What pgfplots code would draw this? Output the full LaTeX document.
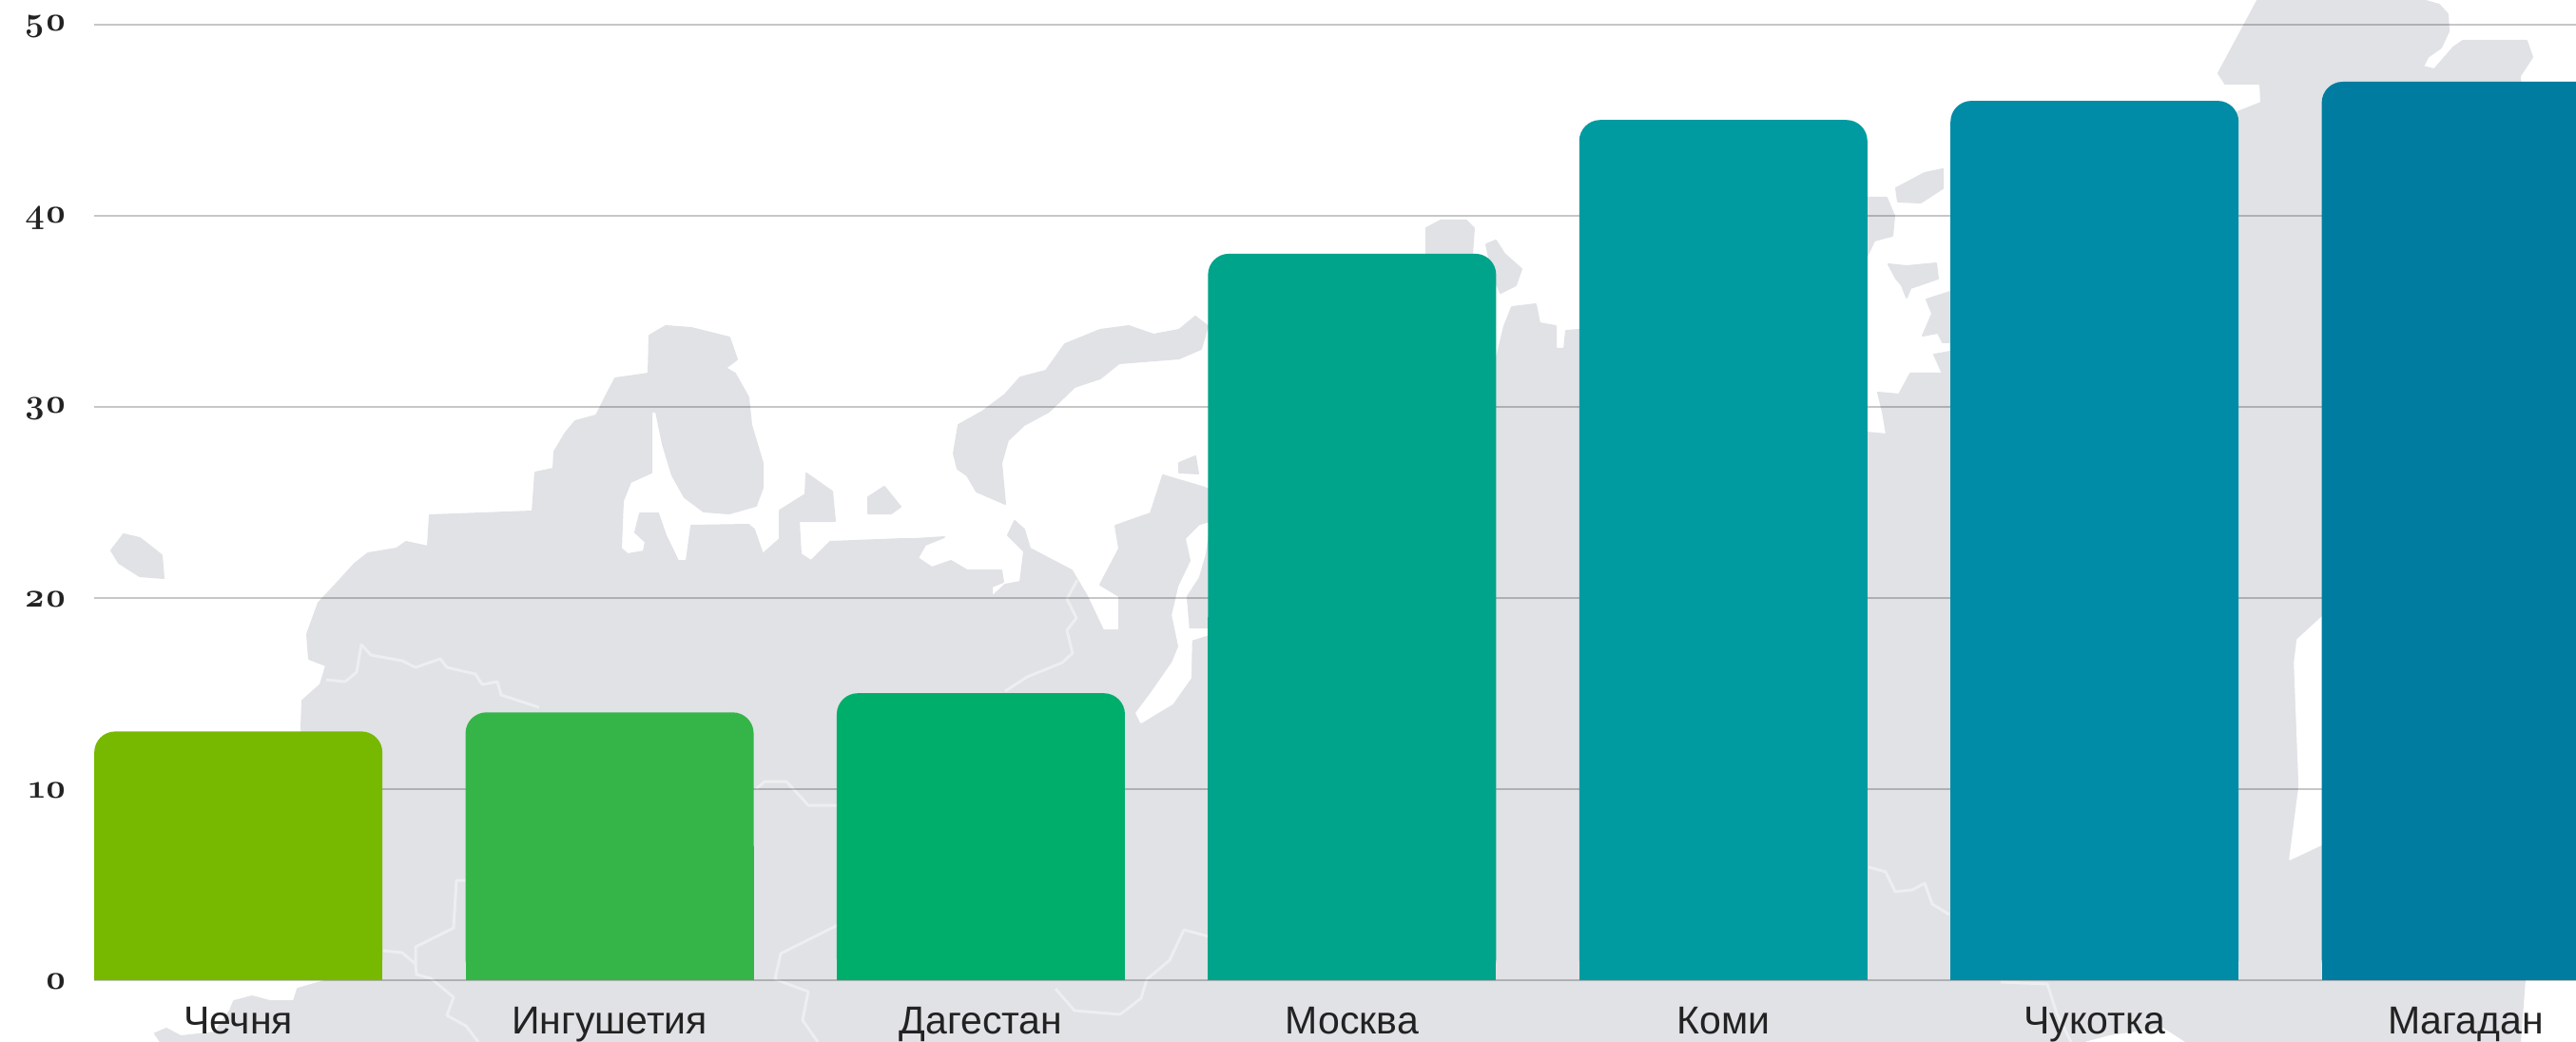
\documentclass[border=0pt]{standalone}
\usepackage{fontspec}
\usepackage{pgfplots}
\pgfplotsset{compat=1.18}
\setmainfont{Liberation Sans}
\newfontfamily\tickfont[Numbers=OldStyle]{Latin Modern Roman}
\definecolor{land}{HTML}{E1E2E6}
\definecolor{bord}{HTML}{EDEEF0}
\definecolor{c1}{HTML}{77B800}
\definecolor{c2}{HTML}{35B548}
\definecolor{c3}{HTML}{00AE6C}
\definecolor{c4}{HTML}{00A48A}
\definecolor{c5}{HTML}{009BA1}
\definecolor{c6}{HTML}{008CA6}
\definecolor{c7}{HTML}{007CA0}
\definecolor{ink}{HTML}{222222}
\pgfplotsset{
  landp/.style={fill=land,draw=land,line width=1pt,line join=round},
  seap/.style={fill=white,draw=white,line width=0.8pt,line join=round},
  borderp/.style={draw=bord,line width=1.5pt,line join=round,fill=none,mark=none},
  topbar/.style={ybar,bar width=151.5pt,bar shift=0pt,draw=none,rounded corners=11pt},
  basebar/.style={ybar,bar width=151.5pt,bar shift=0pt,draw=none,y filter/.expression={y/2}},
}
\begin{document}
\begin{tikzpicture}
\path[use as bounding box] (0pt,0pt) rectangle (1354.5pt,548pt);
\begin{axis}[at={(0pt,0pt)},anchor=south west,scale only axis,width=1354.5pt,height=548pt,
  xmin=0,xmax=2709,ymin=0,ymax=1096,y dir=reverse,hide axis]
% mainland
\addplot[landp] coordinates {(169,1096)(163,1087)(175,1082)(190,1090)(226,1086)(242,1063)(246,1053)(265,1048)(284,1053)(309,1053)(313,1040)(348,1030)
(317,766)(318,737)(337,720)(343,700)(325,693)(323,667)(335,634)(352,616)(373,593)(387,582)(417,577)(427,570)(450,575)(452,542)(560,538)(563,497)(582,493)(583,475)(595,455)(605,443)(627,437)(637,417)(647,398)(682,393)(683,353)(700,343)(727,345)(767,355)(775,378)(763,387)(773,393)(787,418)(790,447)(802,487)(802,513)(795,532)(767,540)(740,538)(720,523)(707,500)(697,467)(690,433)(685,433)(685,497)(663,507)(655,527)(653,577)(660,583)(677,580)(679,570)(668,560)(673,540)(692,540)(700,563)(713,590)(722,590)(727,553)(787,552)(793,557)(802,583)(820,567)(820,537)(847,520)(848,498)(875,517)(878,548)(840,548)(842,583)(853,590)(873,570)(950,567)(962,567)(993,565)(973,573)(965,587)(980,597)(1000,590)(1017,600)(1053,600)(1055,612)(1043,617)(1043,628)(1057,615)(1073,612)(1077,580)(1060,563)(1067,548)(1077,557)(1083,577)(1127,600)(1143,627)(1160,663)(1177,663)(1177,627)(1157,615)(1177,577)(1173,553)(1210,540)(1223,500)(1267,513)(1280,520)
(1573,380)(1582,343)(1590,323)(1615,320)(1619,340)(1636,343)(1636,367)(1645,367)(1647,348)(1661,347)(1700,350)(1963,455)(1984,457)(1980,433)(1975,413)(1997,415)(2009,393)(2043,393)(2034,373)(2051,370)(2100,300)(2353,118)(2378,108)(2377,88)(2340,88)(2333,77)(2377,-5)(2530,-5)(2565,5)(2574,15)(2575,33)(2567,50)(2553,60)(2548,70)(2560,73)(2580,50)(2590,43)(2657,43)(2663,60)(2650,80)(2660,300)(2655,1030)(2650,1096)(2300,1096)(2275,1080)(2218,1088)(2188,1096)} -- cycle;
% islands
\addplot[landp] coordinates {(130,562)(147,566)(170,584)(172,608)(147,606)(125,592)(117,579)} -- cycle;
\addplot[landp] coordinates {(930,512)(947,533)(937,540)(913,540)(913,523)} -- cycle;
\addplot[landp] coordinates {(1257,333)(1270,343)(1263,367)(1240,377)(1177,382)(1157,398)(1130,407)(1103,433)(1077,447)(1060,463)(1053,487)(1057,530)(1027,517)(1017,500)(1007,493)(1003,477)(1008,447)(1033,433)(1057,415)(1073,397)(1100,390)(1120,362)(1157,347)(1187,343)(1213,352)(1240,347)} -- cycle;
\addplot[landp] coordinates {(1240,487)(1257,480)(1260,498)(1240,497)} -- cycle;
\addplot[landp] coordinates {(1500,240)(1515,232)(1542,232)(1550,240)(1548,267)(1500,267)} -- cycle;
\addplot[landp] coordinates {(1563,257)(1573,253)(1582,267)(1600,283)(1594,300)(1578,308)(1570,290)} -- cycle;
\addplot[landp] coordinates {(1950,210)(1965,208)(1984,208)(1992,227)(1990,248)(1971,253)(1963,270)(1950,270)} -- cycle;
\addplot[landp] coordinates {(1994,198)(2024,182)(2043,178)(2043,198)(2020,213)(1996,212)} -- cycle;
\addplot[landp] coordinates {(1986,278)(2005,280)(2036,277)(2038,293)(2009,303)(2005,313)(2000,300)(1994,293)} -- cycle;
\addplot[landp] coordinates {(2026,315)(2051,307)(2060,360)(2043,360)(2038,350)(2022,353)(2032,330)} -- cycle;
% inner seas
\addplot[seap] coordinates {(1262,553)(1248,567)(1253,590)(1240,617)(1233,647)(1240,680)(1233,697)(1210,730)(1195,750)(1200,760)(1233,740)(1252,713)(1253,673)(1272,667)(1272,662)(1250,662)(1247,627)(1260,607)(1267,583)(1272,550)} -- cycle;
\addplot[seap] coordinates {(2442,649)(2416,673)(2413,697)(2418,827)(2408,904)(2442,888)(2500,888)(2500,649)} -- cycle;
% borders
\addplot[borderp] coordinates {(343,715)(363,717)(375,707)(380,678)(390,689)(423,695)(437,702)(463,693)(470,702)(500,709)(507,720)(523,717)(527,731)(567,744)};
\addplot[borderp] coordinates {(403,1000)(423,1002)(437,1014)(437,996)(477,976)(480,926)(490,926)};
\addplot[borderp] coordinates {(437,1014)(438,1025)(453,1029)(477,1049)(470,1068)(490,1079)(503,1096)};
\addplot[borderp] coordinates {(795,830)(804,822)(827,822)(850,847)(881,847)};
\addplot[borderp] coordinates {(881,973)(821,1003)(815,1030)(850,1043)(844,1073)(860,1096)};
\addplot[borderp] coordinates {(1057,727)(1080,712)(1117,697)(1128,687)(1122,663)(1132,650)(1122,630)(1133,610)};
\addplot[borderp] coordinates {(1271,985)(1245,978)(1230,1010)(1206,1030)(1200,1050)(1178,1067)(1130,1063)(1110,1040)};
\addplot[borderp] coordinates {(1965,912)(1983,917)(1993,938)(2011,936)(2024,929)(2032,951)(2050,962)};
\addplot[borderp] coordinates {(2104,1033)(2153,1035)(2163,1066)(2178,1096)};
\end{axis}
\begin{axis}[at={(49.5pt,32.65pt)},anchor=south west,scale only axis,width=1305pt,height=502.5pt,
  xmin=-0.3884,xmax=6.297,ymin=0,ymax=50,
  axis line style={draw=none},major tick length=0pt,
  xtick={0,1,2,3,4,5,6},
  xticklabels={Чечня,Ингушетия,Дагестан,Москва,Коми,Чукотка,Магадан},
  ytick={0,10,20,30,40,50},
  ymajorgrids,
  grid style={draw=black,opacity=0.22,line width=1pt},
  /pgf/number format/assume math mode=true,
  xticklabel style={font=\fontsize{20.5}{24}\selectfont,text=ink,anchor=base,yshift=-28.5pt},
  yticklabel style={font=\tickfont\bfseries\fontsize{18}{24}\selectfont,text=ink,anchor=east,xshift=-10.5pt,yshift=-1pt},
]
\addplot[topbar,fill=c1] coordinates {(0,13)};
\addplot[basebar,fill=c1] coordinates {(0,13)};
\addplot[topbar,fill=c2] coordinates {(1,14)};
\addplot[basebar,fill=c2] coordinates {(1,14)};
\addplot[topbar,fill=c3] coordinates {(2,15)};
\addplot[basebar,fill=c3] coordinates {(2,15)};
\addplot[topbar,fill=c4] coordinates {(3,38)};
\addplot[basebar,fill=c4] coordinates {(3,38)};
\addplot[topbar,fill=c5] coordinates {(4,45)};
\addplot[basebar,fill=c5] coordinates {(4,45)};
\addplot[topbar,fill=c6] coordinates {(5,46)};
\addplot[basebar,fill=c6] coordinates {(5,46)};
\addplot[topbar,fill=c7] coordinates {(6,47)};
\addplot[basebar,fill=c7] coordinates {(6,47)};
\end{axis}
\end{tikzpicture}
\end{document}
